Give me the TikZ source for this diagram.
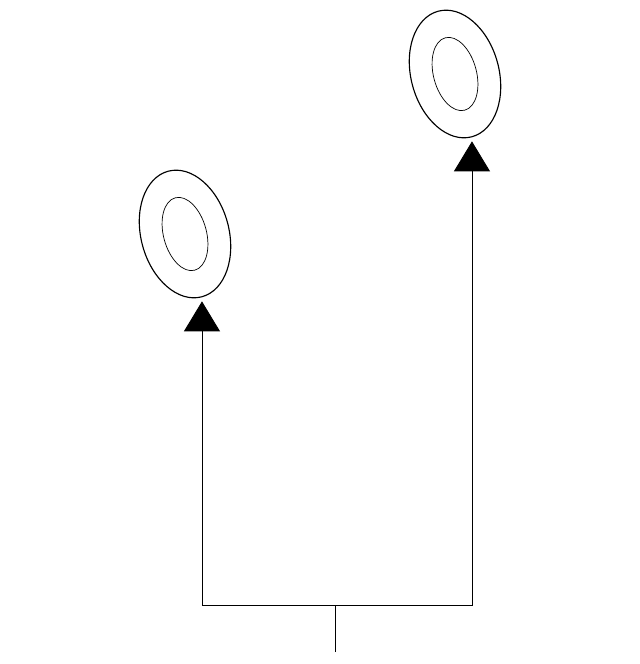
\documentclass[tikz,border=0pt]{standalone}
\usepackage{tikz}
\usetikzlibrary{shapes,arrows.meta,positioning}

\begin{document}
\begin{tikzpicture}[
  ring/.style={draw, ellipse, inner sep=0, minimum width=1.76cm, minimum height=2.6cm, line width=0.65pt, rotate=15},
  hole/.style={draw, ellipse, inner sep=0, minimum width=0.86cm, minimum height=1.5cm, line width=0.4pt, rotate=15},
  feedline/.style={line width=0.5pt, shorten >=0.08cm, -{Triangle[width=0.72cm, length=0.6cm]}}]
\useasboundingbox (0,0) rectangle (12.8,-13.28);
\node [ring] (ringL) at (3.70,-4.68) {};
\node [hole] (holeL) at (ringL.center) {};
\node [ring] (ringR) at (9.10,-1.48) {};
\node [hole] (holeR) at (ringR.center) {};
\coordinate (split) at (6.70,-12.10);
\coordinate (stub) at (6.70,-13.04);
\draw [line width=0.5pt] (stub) -- (split); % common feed
\draw [feedline] (split) -| (ringL.south);
\draw [feedline] (split) -| (ringR.south);
\end{tikzpicture}
\end{document}
